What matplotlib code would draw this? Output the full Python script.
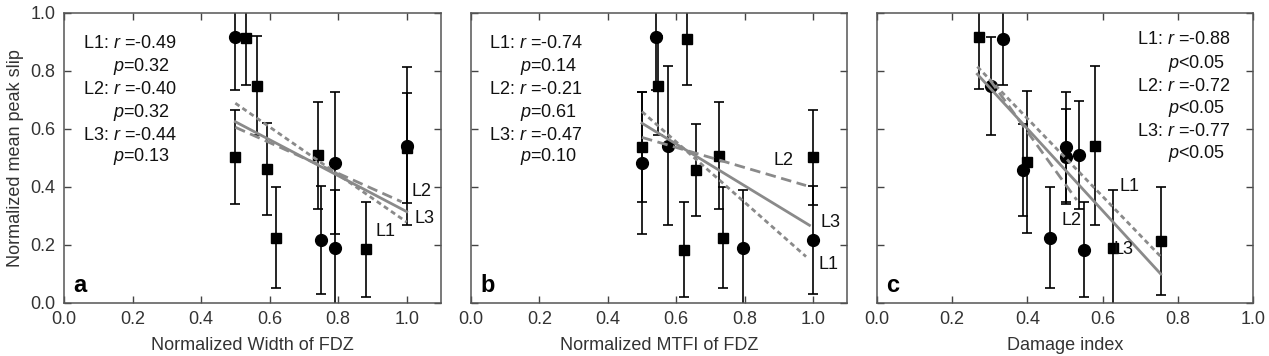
import matplotlib
matplotlib.use('Agg')
import matplotlib.pyplot as plt

plt.rcParams['font.family'] = ['Liberation Sans', 'DejaVu Sans']
plt.rcParams['mathtext.fontset'] = 'custom'
plt.rcParams['mathtext.rm'] = 'Liberation Sans'
plt.rcParams['mathtext.it'] = 'Liberation Sans:italic'

# panel a - normalized width of FDZ
a_circ_x = [0.50, 0.751, 0.792, 0.792, 1.0]
a_circ_y = [0.916, 0.217, 0.484, 0.191, 0.542]
a_circ_err = [0.18, 0.186, 0.245, 0.20, 0.273]
a_sq_x = [0.531, 0.562, 0.50, 0.591, 0.620, 0.741, 0.880, 1.0]
a_sq_y = [0.913, 0.749, 0.504, 0.461, 0.225, 0.509, 0.185, 0.535]
a_sq_err = [0.16, 0.17, 0.163, 0.159, 0.175, 0.185, 0.164, 0.19]
a_fit_x = {'L1': [0.5, 1.0], 'L2': [0.5, 0.985], 'L3': [0.5, 1.0]}
a_fit_y = {'L1': [0.689, 0.279], 'L2': [0.606, 0.349], 'L3': [0.625, 0.315]}
a_stats = ['-0.49', '0.32', '-0.40', '0.32', '-0.44', '0.13']

# panel b - normalized MTFI of FDZ
b_circ_x = [0.540, 0.499, 0.577, 0.796, 1.0]
b_circ_y = [0.916, 0.482, 0.543, 0.191, 0.217]
b_circ_err = [0.18, 0.245, 0.273, 0.20, 0.186]
b_sq_x = [0.631, 0.546, 0.499, 0.658, 0.726, 0.623, 0.736, 1.0]
b_sq_y = [0.910, 0.749, 0.537, 0.459, 0.508, 0.183, 0.225, 0.502]
b_sq_err = [0.16, 0.17, 0.19, 0.159, 0.185, 0.164, 0.175, 0.163]
b_fit_x = {'L1': [0.5, 0.98], 'L2': [0.5, 0.98], 'L3': [0.5, 0.99]}
b_fit_y = {'L1': [0.660, 0.160], 'L2': [0.571, 0.405], 'L3': [0.620, 0.268]}
b_stats = ['-0.74', '0.14', '-0.21', '0.61', '-0.47', '0.10']

# panel c - damage index
c_circ_x = [0.334, 0.303, 0.389, 0.502, 0.502, 0.537, 0.460, 0.551]
c_circ_y = [0.910, 0.748, 0.459, 0.539, 0.505, 0.510, 0.225, 0.183]
c_circ_err = [0.16, 0.17, 0.159, 0.19, 0.163, 0.185, 0.175, 0.164]
c_sq_x = [0.272, 0.399, 0.580, 0.626, 0.754]
c_sq_y = [0.918, 0.485, 0.543, 0.191, 0.215]
c_sq_err = [0.18, 0.245, 0.273, 0.20, 0.186]
c_fit_x = {'L1': [0.267, 0.754], 'L2': [0.30, 0.531], 'L3': [0.267, 0.754]}
c_fit_y = {'L1': [0.815, 0.160], 'L2': [0.77, 0.355], 'L3': [0.789, 0.100]}
c_stats = ['-0.88', '<0.05', '-0.72', '<0.05', '-0.77', '<0.05']

gray = '#8a8a8a'
styles = {'L1': (0, (1.8, 1.3)), 'L2': (0, (3.8, 2.0)), 'L3': '-'}
fs = 13

fig = plt.figure(figsize=(12.69, 3.56), dpi=100)
ax_a = fig.add_axes([0.0504, 0.1489, 0.2971, 0.8146])
ax_b = fig.add_axes([0.3712, 0.1489, 0.2963, 0.8146])
ax_c = fig.add_axes([0.6909, 0.1489, 0.2968, 0.8146])

panels = [
    (ax_a, a_circ_x, a_circ_y, a_circ_err, a_sq_x, a_sq_y, a_sq_err, a_fit_x, a_fit_y, a_stats,
     'Normalized Width of FDZ', 'a', 1.1),
    (ax_b, b_circ_x, b_circ_y, b_circ_err, b_sq_x, b_sq_y, b_sq_err, b_fit_x, b_fit_y, b_stats,
     'Normalized MTFI of FDZ', 'b', 1.1),
    (ax_c, c_circ_x, c_circ_y, c_circ_err, c_sq_x, c_sq_y, c_sq_err, c_fit_x, c_fit_y, c_stats,
     'Damage index', 'c', 1.0),
]

for ax, cx, cy, ce, sx, sy, se, fx, fy, st, xlab, letter, xmax in panels:
    ax.errorbar(cx, cy, yerr=ce, fmt='o', color='black', ms=8.5,
                elinewidth=1.2, capsize=3.5, capthick=1.2, zorder=2)
    ax.errorbar(sx, sy, yerr=se, fmt='s', color='black', ms=7.5,
                elinewidth=1.2, capsize=3.5, capthick=1.2, zorder=2)
    for key in ['L1', 'L2', 'L3']:
        ax.plot(fx[key], fy[key], color=gray, lw=2, ls=styles[key], zorder=3)

    ax.set_xlim(0, xmax)
    ax.set_ylim(0, 1.0)
    ax.set_xticks([0, 0.2, 0.4, 0.6, 0.8, 1.0])
    ax.set_yticks([0, 0.2, 0.4, 0.6, 0.8, 1.0])
    ax.xaxis.set_major_formatter(plt.FormatStrFormatter('%.1f'))
    ax.yaxis.set_major_formatter(plt.FormatStrFormatter('%.1f'))
    ax.tick_params(direction='in', top=True, right=True, length=5, width=1,
                   color='#444444', labelsize=fs, labelcolor='#333333', pad=6)
    for sp in ax.spines.values():
        sp.set_color('#555555')
        sp.set_linewidth(1.1)
    ax.set_xlabel(xlab, fontsize=fs, color='#333333', labelpad=6)
    ax.text(0.024, 0.02, letter, transform=ax.transAxes, fontsize=17,
            fontweight='bold', ha='left', va='bottom')
    if ax is not ax_a:
        ax.tick_params(labelleft=False)

ax_a.set_ylabel('Normalized mean peak slip', fontsize=fs, color='#333333', labelpad=5)

# correlation text
def stat_block(ax, x1, x2, ys, st):
    for i in range(3):
        ax.text(x1, ys[2 * i], 'L%d: $r$ =%s' % (i + 1, st[2 * i]), transform=ax.transAxes,
                fontsize=fs, ha='left', va='center', color='#111111')
        pv = st[2 * i + 1]
        ptxt = '$p$' + (pv if pv.startswith('<') else '=' + pv)
        ax.text(x2, ys[2 * i + 1], ptxt, transform=ax.transAxes,
                fontsize=fs, ha='left', va='center', color='#111111')

ys_ab = [0.896, 0.815, 0.737, 0.656, 0.579, 0.504]
ys_c = [0.907, 0.826, 0.748, 0.671, 0.593, 0.514]
stat_block(ax_a, 0.050, 0.130, ys_ab, a_stats)
stat_block(ax_b, 0.048, 0.130, ys_ab, b_stats)
stat_block(ax_c, 0.690, 0.774, ys_c, c_stats)

# line labels
lab_kw = dict(fontsize=fs, ha='center', va='center', color='#111111')
ax_a.text(1.043, 0.385, 'L2', **lab_kw)
ax_a.text(1.052, 0.29, 'L3', **lab_kw)
ax_a.text(0.939, 0.248, 'L1', **lab_kw)
ax_b.text(0.915, 0.493, 'L2', **lab_kw)
ax_b.text(1.052, 0.277, 'L3', **lab_kw)
ax_b.text(1.045, 0.133, 'L1', **lab_kw)
ax_c.text(0.672, 0.401, 'L1', **lab_kw)
ax_c.text(0.517, 0.284, 'L2', **lab_kw)
ax_c.text(0.656, 0.185, 'L3', **lab_kw)

fig.savefig('out.png', dpi=100)
